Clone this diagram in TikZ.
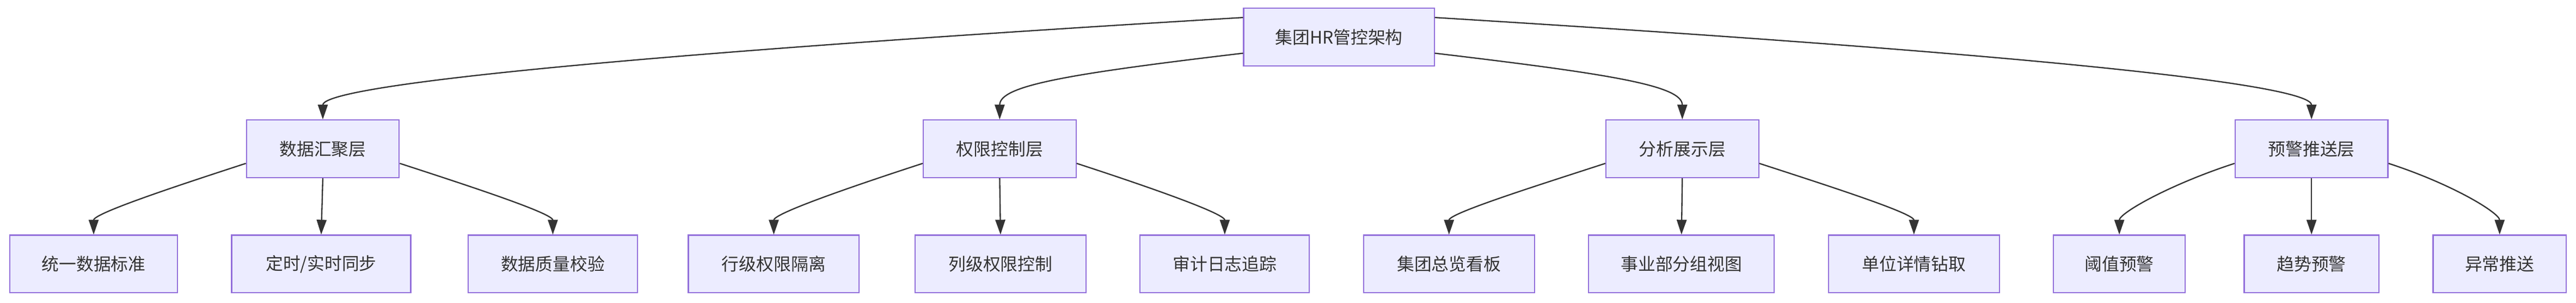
\documentclass[tikz,border=0pt]{standalone}
\usepackage{fontspec}
\setmainfont{Noto Sans CJK SC}
\usetikzlibrary{positioning, arrows.meta}
\definecolor{boxfill}{HTML}{ECECFF}
\definecolor{boxline}{HTML}{9370DB}
\definecolor{linkcol}{HTML}{333333}
\tikzset{
  box/.style={draw=boxline, fill=boxfill, line width=2pt, minimum height=3.5cm,
              inner sep=0pt, font=\fontsize{30}{36}\selectfont, text=linkcol},
  link/.style={draw=linkcol, line width=2.2pt, -{Triangle[length=0.9cm, width=0.6cm]}}
}
\begin{document}
\begin{tikzpicture}[x=1mm, y=1mm]
  \useasboundingbox (0,0) rectangle (1568,-184.2);

  % root
  \node[box, minimum width=11.6cm] (root) at (815,-22.5) {集团HR管控架构};

  % layer nodes
  \foreach \name/\x/\descr in {agg/196.5/数据汇聚层, perm/608.5/权限控制层, ana/1024/分析展示层, warn/1407/预警推送层}
  \node[box, minimum width=9.3cm] (\name) at (\x,-90.5) {\descr};

  % leaf nodes
  \foreach \name/\x/\w/\descr in {
      std/57/10.2/统一数据标准, sync/195.5/10.9/{定时/实时同步}, qual/336.5/10.3/数据质量校验,
      row/471/10.4/行级权限隔离, col/609/10.4/列级权限控制, audit/745.5/10.3/审计日志追踪,
      view/882/10.4/集团总览看板, unit/1023.5/11.3/事业部分组视图, drill/1165/10.4/单位详情钻取,
      thr/1290/8.0/阈值预警, trend/1407/8.2/趋势预警, push/1521.5/8.1/异常推送}
  \node[box, minimum width=\w cm] (\name) at (\x,-160.5) {\descr};

  % root to layers
  \draw[link] ([yshift=-6mm]root.north west) .. controls (300,-38) and (196.5,-55) .. (agg.north);
  \draw[link] ([yshift=8mm]root.south west) .. controls (650,-45) and (608.5,-52) .. (perm.north);
  \draw[link] ([yshift=8mm]root.south east) .. controls (980,-45) and (1024,-52) .. (ana.north);
  \draw[link] ([yshift=-6mm]root.north east) .. controls (1320,-38) and (1407,-55) .. (warn.north);

  % layers to leaves
  \foreach \p/\l/\m/\r in {agg/std/sync/qual, perm/row/col/audit, ana/view/unit/drill, warn/thr/trend/push} {
    \draw[link] ([yshift=9mm]\p.south west) .. controls +(-40,-13) and +(0,13) .. (\l.north);
    \draw[link] (\p.south) -- (\m.north);
    \draw[link] ([yshift=9mm]\p.south east) .. controls +(40,-13) and +(0,13) .. (\r.north);
  }
\end{tikzpicture}
\end{document}
